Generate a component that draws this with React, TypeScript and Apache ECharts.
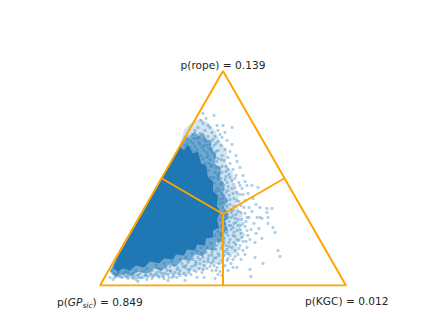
import React, { useEffect, useRef } from "react";
import * as echarts from "echarts";

// Plane coordinates of the ternary diagram (side = 246 units)
const triangle = [[0, 0], [123, 214.5], [246, 0], [0, 0]];
const dividers = [[[61.5, 107.25], [123, 71.5]], [[184.5, 107.25], [123, 71.5]], [[123, 0], [123, 71.5]]];

const labelRope = "p(rope) = 0.139";
const labelKgc = "p(KGC) = 0.012";
const labelGpValue = ") = 0.849";

// Outlines of the saturated, dense and thin parts of the cloud
const coreOutline = [[13, 17], [17, 27], [40, 68], [65, 113], [75, 130], [80, 139], [84, 135], [88, 141], [93, 132], [98, 134], [101, 122], [106, 120], [108, 108], [113, 104], [113, 94], [118, 90], [117, 80], [120, 73], [117, 66], [119, 58], [113, 55], [113, 48], [106, 47], [105, 40], [97, 41], [95, 35], [87, 36], [84, 30], [76, 31], [73, 26], [64, 27], [59, 22], [50, 24], [44, 18], [36, 20], [30, 15], [23, 17], [18, 14]];
const denseOutline = [[10, 14], [16, 27], [40, 68], [65, 113], [80, 140], [85, 150], [89, 147], [94, 154], [99, 150], [103, 153], [107, 146], [110, 146], [112, 136], [116, 132], [115, 122], [121, 117], [120, 106], [125, 101], [123, 92], [128, 86], [124, 78], [129, 71], [125, 64], [128, 56], [122, 52], [124, 44], [116, 43], [115, 35], [107, 36], [103, 29], [95, 31], [90, 24], [83, 26], [76, 19], [69, 21], [62, 15], [54, 17], [47, 12], [39, 14], [32, 10], [24, 12], [17, 9], [13, 11]];
const thinOutline = [[84, 156], [92, 163], [100, 167], [108, 163], [115, 155], [120, 145], [127, 134], [126, 122], [133, 113], [133, 100], [139, 92], [137, 80], [143, 70], [140, 58], [146, 50], [137, 43], [138, 32], [125, 30], [122, 21], [108, 22], [104, 15], [92, 16], [86, 10], [70, 11], [62, 8], [50, 9], [42, 6], [28, 7], [14, 8], [10, 13], [16, 27], [40, 68], [65, 113], [80, 140]];

const topFringe = [[103, 172], [114, 170], [106, 167], [101, 165], [117, 160], [123, 160], [132, 158], [108, 160], [103, 162], [98, 158], [95, 155], [118, 155], [125, 153], [112, 153], [105, 155], [100, 152], [92, 151], [108, 149], [115, 149], [122, 148], [97, 147], [104, 146], [88, 146], [111, 144], [118, 144], [127, 145], [93, 142], [100, 141], [107, 140], [114, 140], [121, 140], [132, 141], [85, 140], [90, 138], [97, 136], [104, 135], [111, 135], [118, 135], [125, 136], [130, 134], [83, 135], [88, 133], [94, 131], [101, 130], [108, 130], [115, 130], [122, 130], [128, 128], [136, 130], [106, 144], [99, 148], [95, 139], [102, 138], [109, 137], [113, 146], [91, 144], [87, 142], [110, 158], [120, 151], [116, 142]];

const shoulder = [[110, 126], [117, 124], [124, 125], [130, 122], [137, 124], [112, 120], [119, 118], [126, 119], [133, 116], [140, 118], [108, 115], [115, 113], [122, 113], [129, 111], [136, 110], [143, 110], [145, 104], [111, 108], [118, 107], [125, 106], [132, 105], [139, 103], [114, 102], [121, 101], [128, 99], [135, 98], [142, 97], [147, 100], [152, 100], [158, 98], [119, 95], [126, 93], [133, 92], [140, 91], [148, 92], [116, 89], [123, 87], [130, 86], [137, 85], [145, 85], [153, 87], [120, 82], [127, 80], [134, 79], [141, 80], [149, 78], [156, 81], [105, 122], [102, 118], [107, 128], [113, 132], [96, 133], [100, 125], [105, 112], [110, 104], [112, 96], [117, 97], [113, 84], [118, 76], [109, 122], [116, 118], [121, 107], [127, 103], [124, 96], [129, 90], [122, 92], [134, 87], [119, 112], [126, 109], [114, 108], [103, 127], [98, 129], [92, 135], [86, 137], [80, 133], [84, 129], [90, 126], [96, 122], [106, 118], [99, 115], [94, 120], [108, 108], [103, 110]];

const innerRight = [[115, 128], [111, 119], [118, 110], [122, 103], [116, 94], [124, 90], [120, 86], [127, 84], [123, 78], [126, 73], [122, 70], [127, 67], [124, 63], [129, 60], [123, 58], [126, 52], [121, 50], [124, 46], [119, 43], [122, 40], [116, 36], [112, 33], [119, 30], [114, 27], [108, 27], [104, 24], [111, 22], [100, 26], [96, 22], [92, 19], [88, 16], [83, 19], [77, 16], [71, 14], [67, 15], [62, 12], [57, 13], [51, 11], [45, 10], [39, 11], [34, 9], [28, 10], [23, 12], [17, 11], [130, 81], [133, 75], [136, 71], [131, 68], [138, 66], [134, 62], [131, 56], [137, 55], [133, 50], [139, 45], [134, 43], [129, 39], [135, 35], [130, 30], [125, 34], [128, 95], [132, 97], [137, 93], [134, 101], [130, 108], [126, 114], [122, 119], [118, 127], [112, 137], [107, 133], [104, 140], [99, 143], [94, 147], [89, 149], [110, 141], [116, 134], [121, 126], [128, 116], [135, 107], [140, 100], [143, 91], [139, 84], [144, 78], [141, 73], [147, 68], [143, 62], [147, 55], [141, 60], [146, 44], [140, 40], [143, 35], [138, 31], [133, 26], [128, 27], [123, 18], [117, 18], [112, 15], [107, 17], [102, 13], [96, 14], [91, 11], [86, 10], [80, 10], [74, 9], [69, 8], [64, 7], [59, 8], [52, 7], [47, 6], [36, 6], [28, 7], [15, 8], [13, 6], [38, 4], [85, 5], [68, 5], [104, 8], [97, 8], [115, 7]];

const rightFringe = [[160, 78], [167, 77], [172, 77], [168, 68], [157, 68], [162, 67], [167, 73], [160, 68], [173, 58], [175, 53], [168, 62], [178, 35], [180, 29], [155, 28], [163, 22], [150, 16], [151, 9], [133, 18], [162, 47], [155, 43], [147, 38], [125, 75], [131, 73], [138, 74], [145, 72], [152, 74], [128, 68], [135, 67], [142, 66], [149, 68], [154, 62], [125, 62], [131, 60], [138, 60], [145, 59], [151, 56], [159, 57], [127, 54], [134, 53], [141, 52], [148, 50], [156, 52], [124, 48], [130, 46], [137, 46], [143, 44], [150, 46], [126, 40], [132, 38], [139, 37], [145, 31], [128, 32], [135, 29], [141, 26], [127, 25], [131, 22], [137, 18], [126, 70], [133, 70], [129, 64], [136, 63], [126, 57], [133, 58], [140, 56], [146, 64], [128, 50], [135, 49], [142, 48], [129, 43], [136, 41], [127, 36], [124, 30], [125, 66], [124, 54], [127, 78], [123, 83], [131, 76], [124, 43], [122, 60], [120, 66], [118, 58], [121, 52], [119, 46], [117, 40], [121, 37], [118, 32], [122, 25], [116, 28], [119, 22], [113, 24], [109, 30], [112, 36], [106, 33], [103, 28], [110, 19], [116, 15], [120, 14], [118, 11], [122, 10], [114, 20], [125, 20], [128, 15]];

const bottomFringe = [[10, 8], [20, 9], [33, 7], [42, 8], [72, 8], [77, 8], [14, 12], [18, 13], [24, 11], [28, 13], [33, 12], [37, 10], [41, 13], [46, 11], [50, 13], [55, 11], [60, 14], [65, 12], [70, 15], [75, 13], [80, 15], [85, 18], [90, 16], [95, 20], [100, 22], [104, 20], [108, 24], [12, 15], [26, 9], [31, 10], [39, 8], [48, 9], [53, 9], [58, 10], [63, 9], [68, 11], [73, 11], [79, 12], [84, 12], [89, 13], [94, 15], [99, 17], [103, 16], [16, 10], [22, 8], [44, 14], [52, 15], [58, 17], [66, 18], [74, 20], [82, 22], [88, 23], [93, 26], [98, 28], [102, 32], [107, 38], [111, 42], [115, 50], [118, 54], [29, 16], [36, 15], [47, 17], [56, 20], [64, 22], [72, 24], [80, 26], [86, 28], [92, 32], [97, 34], [101, 38], [112, 30], [96, 24], [86, 20], [78, 18], [70, 19], [61, 16], [19, 14], [25, 14]];

const pointSets = [topFringe, shoulder, innerRight, rightFringe, bottomFringe];

export default function App() {
  const ref = useRef<HTMLDivElement>(null);
  useEffect(() => {
    const chart = echarts.init(ref.current!, null, { renderer: "svg" });
    const blob = (outline: number[][], opacity: number) => ({
      type: "custom",
      coordinateSystem: "cartesian2d",
      silent: true,
      data: [[0, 0]],
      z: 1,
      renderItem: (_: any, api: any) => ({
        type: "polygon",
        shape: { points: outline.map((p) => api.coord(p)) },
        style: { fill: "#1f77b4", opacity },
      }),
    });
    const ink = "#262626";
    const font = "10.6px 'DejaVu Sans'";
    chart.setOption({
      animation: false,
      backgroundColor: "#ffffff",
      grid: { left: 100, top: 71, width: 246, height: 214.5 },
      xAxis: { type: "value", min: 0, max: 246, show: false },
      yAxis: { type: "value", min: 0, max: 214.5, show: false },
      series: [
        blob(thinOutline, 0.2),
        blob(denseOutline, 0.55),
        blob(coreOutline, 1),
        {
          type: "scatter",
          data: pointSets.flat(),
          symbol: "circle",
          symbolSize: 3.2,
          itemStyle: { color: "#1f77b4", opacity: 0.35 },
          silent: true,
          z: 2,
        },
        {
          type: "line",
          data: triangle,
          showSymbol: false,
          silent: true,
          lineStyle: { color: "#ffa500", width: 2 },
          z: 3,
        },
        ...dividers.map((d) => ({
          type: "line",
          data: d,
          showSymbol: false,
          silent: true,
          lineStyle: { color: "#ffa500", width: 2 },
          z: 3,
        })),
      ],
      graphic: [
        { type: "text", x: 223, y: 65, style: { text: labelRope, fill: ink, font, textAlign: "center", textVerticalAlign: "middle" } },
        { type: "text", x: 305, y: 301, style: { text: labelKgc, fill: ink, font, textAlign: "left", textVerticalAlign: "middle" } },
        {
          type: "text",
          x: 57,
          y: 302,
          style: {
            text: "{a|p(}{i|GP}{s|sic}{a|" + labelGpValue + "}",
            textAlign: "left",
            textVerticalAlign: "middle",
            rich: {
              a: { fill: ink, font, lineHeight: 16 },
              i: { fill: ink, font: "italic 10.6px 'DejaVu Sans'", lineHeight: 16 },
              s: { fill: ink, font: "italic 7.5px 'DejaVu Sans'", lineHeight: 16, height: 9, verticalAlign: "bottom" },
            },
          },
        },
      ],
    });
    return () => chart.dispose();
  }, []);
  return <div ref={ref} style={{ position: "absolute", left: 0, top: 0, width: 445, height: 334 }} />;
}
